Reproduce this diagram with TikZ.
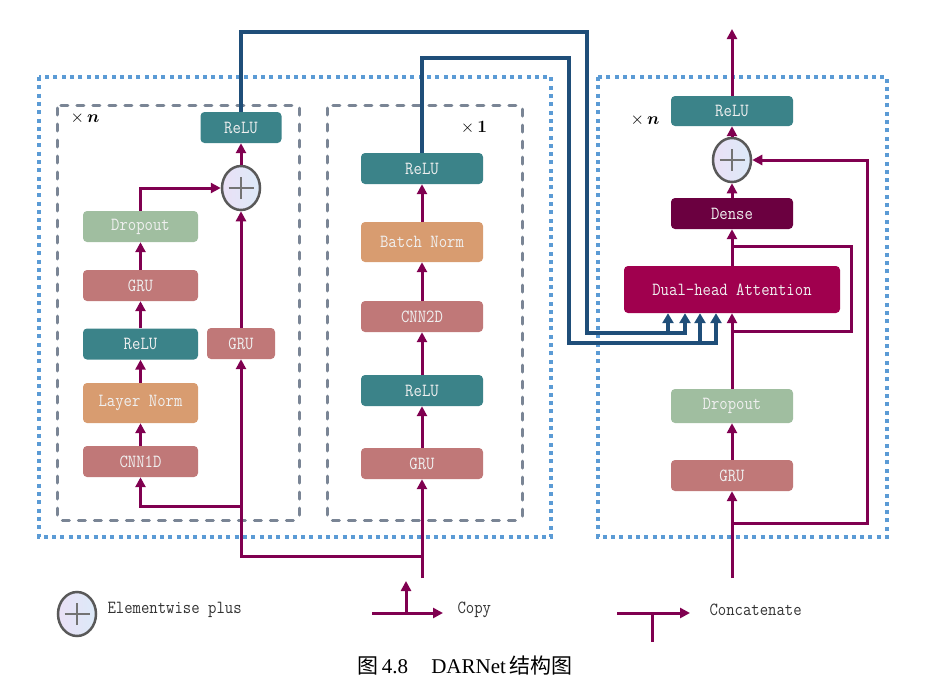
\documentclass[tikz,border=0pt]{standalone}
\usepackage{fontspec}
\usepackage{bm}
\newfontfamily\capfont{Liberation Serif}
\newfontfamily\cjk{Noto Sans CJK SC}
\newfontfamily\monofont[FakeStretch=0.88]{Latin Modern Mono}
\newcommand{\boxfont}{\monofont\fontsize{18.5}{20}\selectfont}
\usetikzlibrary{arrows.meta,shapes.geometric,positioning}

\definecolor{teal1}{RGB}{59,131,137}
\definecolor{rose1}{RGB}{192,120,120}
\definecolor{green1}{RGB}{160,190,160}
\definecolor{orange1}{RGB}{216,156,112}
\definecolor{dense1}{RGB}{107,0,64}
\definecolor{att1}{RGB}{160,0,78}
\definecolor{flow}{RGB}{128,0,80}
\definecolor{skipc}{RGB}{31,78,121}
\definecolor{dotc}{RGB}{91,155,213}
\definecolor{dashc}{RGB}{122,133,149}
\definecolor{lav}{RGB}{234,224,246}
\definecolor{lbl}{RGB}{220,234,248}

\tikzstyle{blk}=[rectangle,rounded corners=4pt,minimum height=31pt,inner sep=0pt,text=white!94!black,font=\boxfont]
\tikzstyle{addop}=[ellipse,draw=black!65,line width=2.5pt,minimum width=38pt,minimum height=44pt,inner sep=0pt,left color=lav,right color=lbl,
  path picture={\draw[black!55,line width=1.3pt] ([xshift=-12.5pt]path picture bounding box.center) -- ([xshift=12.5pt]path picture bounding box.center);
                \draw[black!55,line width=1.3pt] ([yshift=-11pt]path picture bounding box.center) -- ([yshift=11pt]path picture bounding box.center);}]
\tikzstyle{arr}=[flow,line width=3pt,-{Triangle[width=10pt,length=10pt]}]
\tikzstyle{flowline}=[flow,line width=3pt]
\tikzstyle{skiparr}=[skipc,line width=3.5pt,-{Triangle[width=11pt,length=10pt]}]
\tikzstyle{blockbox}=[dotc,line width=3.5pt,dash pattern=on 4pt off 4.3pt]
\tikzstyle{stagebox}=[dashc,line width=3pt,line cap=round,dash pattern=on 7pt off 9pt,rounded corners=3pt]
\tikzstyle{legtext}=[anchor=west,text=black!80,font=\boxfont]
\tikzstyle{times}=[font=\fontsize{16}{18}\selectfont]
\newcommand{\drawarrows}[2][\empty]{
	\foreach \a/\b in {#2}{
		\draw[arr,#1] (\a.north) -- (\b.south);
	}
}

\begin{document}
\begin{tikzpicture}[x=1pt,y=-1pt]
\useasboundingbox (0,0) rectangle (932,688);

% frames
\draw[blockbox] (39,77) rectangle (551,537);
\draw[blockbox] (598,77) rectangle (887,537);
\draw[stagebox] (57,105) rectangle (299,520);
\draw[stagebox] (327,105) rectangle (522,520);

\node[times] (kn1) at (85,118) {$\times\,\bm{n}$};
\node[times] (k1) at (474,128) {$\times\,\bm{1}$};
\node[times] (kn2) at (645,120) {$\times\,\bm{n}$};

% residual GRU block
\node[blk,fill=teal1,minimum width=81pt] (lrelu) at (241,127.5) {ReLU};
\node[addop] (lplus) at (241,188) {};
\node[blk,fill=green1,minimum width=115pt] (ldrop) at (140.5,226.5) {Dropout};
\node[blk,fill=rose1,minimum width=115pt] (lgru1) at (140.5,285.5) {GRU};
\node[blk,fill=teal1,minimum width=115pt] (lrelu1) at (140.5,344) {ReLU};
\node[blk,fill=orange1,minimum width=115pt,minimum height=40pt] (lnorm) at (140.5,403) {Layer Norm};
\node[blk,fill=rose1,minimum width=115pt] (lcnn) at (140.5,461.5) {CNN1D};
\node[blk,fill=rose1,minimum width=68pt] (lgru2) at (241,343.5) {GRU};

% CNN block
\node[blk,fill=teal1,minimum width=122pt] (mrelu) at (422,168.5) {ReLU};
\node[blk,fill=orange1,minimum width=122pt,minimum height=40pt] (mnorm) at (422,242) {Batch Norm};
\node[blk,fill=rose1,minimum width=122pt] (mcnn) at (422,316.5) {CNN2D};
\node[blk,fill=teal1,minimum width=122pt] (mrelu1) at (422,390.5) {ReLU};
\node[blk,fill=rose1,minimum width=122pt] (mgru) at (422,463.5) {GRU};

% attention block
\node[blk,fill=teal1,minimum width=122pt,minimum height=30pt] (rrelu) at (732,111) {ReLU};
\node[addop] (rplus) at (732,160) {};
\node[blk,fill=dense1,minimum width=122pt] (dense) at (732,213.5) {Dense};
\node[blk,fill=att1,minimum width=216pt,minimum height=47pt] (att) at (732,289.5) {Dual-head Attention};
\node[blk,fill=green1,minimum width=122pt,minimum height=34pt] (rdrop) at (732,406) {Dropout};
\node[blk,fill=rose1,minimum width=122pt] (rgru) at (732,475.5) {GRU};

% inputs, output and corners
\coordinate (in1) at (422,578);
\coordinate (j1) at (422,556);
\coordinate (j3) at (241,506);
\coordinate (in2) at (732,578);
\coordinate (out) at (732,29);
\coordinate (r1) at (732,523);
\coordinate (r2) at (867,160);
\coordinate (r3) at (732,331);
\coordinate (r4) at (851,246);
\coordinate (r5) at (732,246);
\coordinate (t1) at (587,32);
\coordinate (t2) at (587,333);
\coordinate (t3) at (569,58);
\coordinate (t4) at (569,343);
\coordinate (a1) at ([xshift=-64pt]att.south);
\coordinate (a2) at ([xshift=-47pt]att.south);
\coordinate (a3) at ([xshift=-32pt]att.south);
\coordinate (a4) at ([xshift=-16pt]att.south);

\drawarrows{lcnn/lnorm,lnorm/lrelu1,lrelu1/lgru1,lgru1/ldrop,lgru2/lplus,lplus/lrelu}
\drawarrows{mgru/mrelu1,mrelu1/mcnn,mcnn/mnorm,mnorm/mrelu}
\drawarrows{rgru/rdrop,rdrop/att,att/dense,dense/rplus,rplus/rrelu}
\draw[arr] (ldrop.north) |- (lplus.west);
\draw[arr] (in1) -- (mgru.south);
\draw[arr] (j1) -| (lgru2.south);
\draw[arr] (j3) -| (lcnn.south);
\draw[arr] (in2) -- (rgru.south);
\draw[arr] (rrelu.north) -- (out);
\draw[arr] (r1) -| (r2) -- (rplus.east);
\draw[flowline] (r3) -| (r4) -- (r5);

% skip paths into attention
\draw[skiparr] (lrelu.north) |- (t1) -- (t2) -| (a2);
\draw[skiparr] (t2 -| a1) -- (a1);
\draw[skiparr] (mrelu.north) |- (t3) -- (t4) -| (a4);
\draw[skiparr] (t4 -| a3) -- (a3);

% legend
\node[addop] (lg) at (77,614) {};
\node[legtext] (lg1) at (104,610) {Elementwise plus};
\coordinate (cp1) at (372,613);
\coordinate (cp2) at (443,613);
\coordinate (cp3) at (406,613);
\coordinate (cp4) at (406,581);
\draw[arr] (cp1) -- (cp2);
\draw[arr] (cp3) -- (cp4);
\node[legtext] (lg2) at (454,610) {Copy};
\coordinate (cc1) at (617,613);
\coordinate (cc2) at (690,613);
\coordinate (cc3) at (652,613);
\coordinate (cc4) at (652,642);
\draw[arr] (cc1) -- (cc2);
\draw[flowline] (cc3) -- (cc4);
\node[legtext] (lg3) at (706,610) {Concatenate};

\node[font=\capfont\fontsize{21}{23}\selectfont] (cap) at (465,666) {{\cjk 图}\,4.8\hspace{1.1em}DARNet\,{\cjk 结构图}};
\end{tikzpicture}
\end{document}
